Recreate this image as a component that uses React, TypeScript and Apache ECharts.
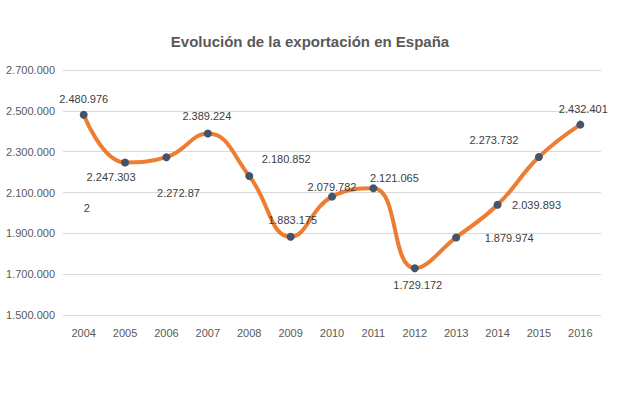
import React, { useEffect, useRef } from "react";
import * as echarts from "echarts";

const years = ["2004", "2005", "2006", "2007", "2008", "2009", "2010", "2011", "2012", "2013", "2014", "2015", "2016"];
const exports = [2480976, 2247303, 2272870, 2389224, 2180852, 1883175, 2079782, 2121065, 1729172, 1879974, 2039893, 2273732, 2432401];
const labelTexts = ["2.480.976", "2.247.303", "2.272.87", "2.389.224", "2.180.852", "1.883.175", "2.079.782", "2.121.065", "1.729.172", "1.879.974", "2.039.893", "2.273.732", "2.432.401"];
// label placement (offset of label centre from the point), in px
const labelOffsets: [number, number][] = [
  [0, -16], [-14, 15], [12, 36], [-1, -17], [37, -17], [2, -17], [0, -10],
  [21, -10], [3, 17], [53, 1], [39, 0], [-45, -17], [3, -16],
];
const yTicksMin = 1500000;
const yTicksMax = 2700000;
const yTicksStep = 200000;

const fmt = (v: number) => String(Math.round(v)).replace(/\B(?=(\d{3})+(?!\d))/g, ".");

export default function App() {
  const ref = useRef<HTMLDivElement>(null);
  useEffect(() => {
    document.body.style.margin = "0";
    const chart = echarts.init(ref.current!, null, { renderer: "svg" });
    const font = "Liberation Sans";
    chart.setOption({
      animation: false,
      backgroundColor: "#ffffff",
      title: {
        text: "Evolución de la exportación en España",
        left: 305,
        textAlign: "center",
        top: 29,
        textStyle: { fontFamily: font, fontSize: 15, fontWeight: "bold", color: "#595959" },
      },
      grid: { left: 63, right: 37, top: 70, bottom: 82 },
      xAxis: {
        type: "category",
        data: years,
        boundaryGap: true,
        axisLine: { show: false },
        axisTick: { show: false },
        axisLabel: { color: "#595959", fontFamily: font, fontSize: 11, margin: 12 },
      },
      yAxis: {
        type: "value",
        min: yTicksMin,
        max: yTicksMax,
        interval: yTicksStep,
        axisLine: { show: false },
        axisTick: { show: false },
        splitLine: { lineStyle: { color: "#d9d9d9", width: 1 } },
        axisLabel: { color: "#595959", fontFamily: font, fontSize: 11, margin: 8, formatter: (v: number) => fmt(v) },
      },
      series: [
        {
          type: "line",
          smooth: 0.45,
          data: exports.map((v, i) => ({
            value: v,
            label: {
              show: true,
              position: "inside",
              offset: labelOffsets[i],
              formatter: () => labelTexts[i],
              color: "#404040",
              fontFamily: font,
              fontSize: 11,
            },
          })),
          lineStyle: { color: "#ED7D31", width: 4 },
          symbol: "circle",
          symbolSize: 8,
          itemStyle: { color: "#44546A", borderColor: "#44546A", borderWidth: 0 },
          markPoint: {
            symbol: "circle",
            symbolSize: 0,
            data: [
              {
                coord: [years[0], exports[0]],
                label: { show: true, position: "inside", offset: [3, 93], formatter: "2", color: "#404040", fontFamily: font, fontSize: 11 },
              },
            ],
          },
        },
      ],
    });
    return () => chart.dispose();
  }, []);
  return <div ref={ref} style={{ width: 638, height: 397 }} />;
}
